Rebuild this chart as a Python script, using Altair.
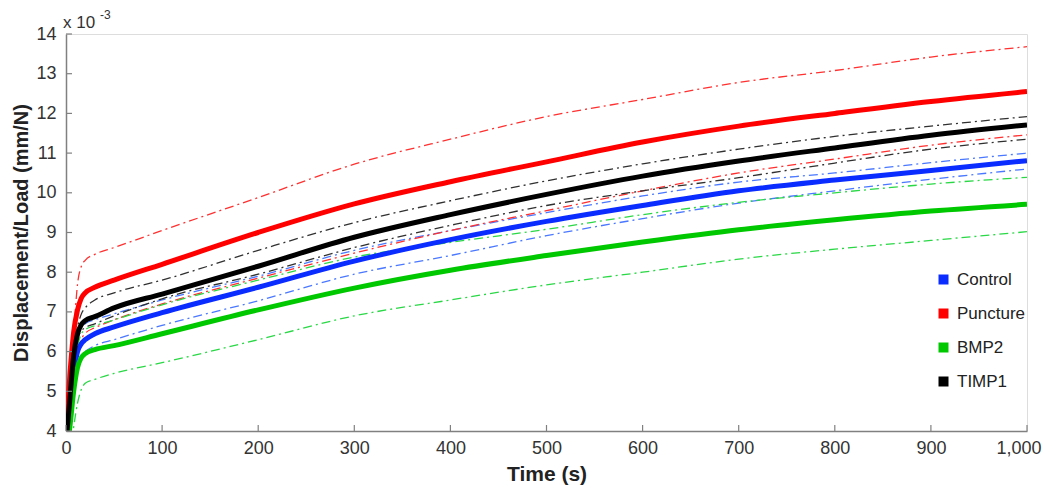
import altair as alt
import pandas as pd

# ---- data (values in units of 10^-3 mm/N) ----
time_s = [0, 4, 8, 12, 16, 20, 30, 50, 100, 200, 300, 400, 500, 600, 700, 800, 900, 1000]

control_mean = [3.6, 4.5, 5.5, 6.0, 6.2, 6.3, 6.45, 6.62, 6.98, 7.62, 8.28, 8.82, 9.28, 9.68, 10.05, 10.32, 10.56, 10.81]
control_upper = [3.4, 4.2, 5.5, 6.3, 6.6, 6.7, 6.8, 6.95, 7.3, 7.9, 8.55, 9.05, 9.5, 9.92, 10.27, 10.5, 10.76, 11.0]
control_lower = [3.2, 3.9, 5.0, 5.6, 5.9, 6.0, 6.15, 6.3, 6.66, 7.28, 7.95, 8.42, 8.92, 9.35, 9.74, 10.05, 10.34, 10.6]

puncture_mean = [3.9, 5.4, 6.5, 7.05, 7.35, 7.48, 7.62, 7.8, 8.2, 9.0, 9.72, 10.28, 10.78, 11.28, 11.68, 12.0, 12.3, 12.55]
puncture_upper = [3.5, 4.6, 6.4, 7.7, 8.15, 8.3, 8.45, 8.62, 9.05, 9.88, 10.72, 11.35, 11.92, 12.35, 12.78, 13.08, 13.42, 13.68]
puncture_lower = [3.2, 3.8, 5.0, 5.9, 6.3, 6.46, 6.6, 6.8, 7.2, 7.85, 8.48, 9.05, 9.55, 10.05, 10.5, 10.85, 11.2, 11.46]

bmp2_mean = [3.4, 4.1, 5.0, 5.6, 5.85, 5.95, 6.05, 6.15, 6.45, 7.05, 7.6, 8.05, 8.42, 8.76, 9.07, 9.32, 9.54, 9.71]
bmp2_upper = [3.3, 4.0, 5.3, 6.1, 6.45, 6.55, 6.65, 6.8, 7.18, 7.8, 8.38, 8.75, 9.08, 9.45, 9.76, 10.0, 10.22, 10.39]
bmp2_lower = [2.8, 3.3, 4.1, 4.7, 5.05, 5.2, 5.3, 5.45, 5.72, 6.3, 6.9, 7.3, 7.68, 8.0, 8.33, 8.58, 8.8, 9.02]

timp1_mean = [3.7, 4.8, 5.9, 6.45, 6.68, 6.78, 6.88, 7.1, 7.45, 8.15, 8.88, 9.45, 9.96, 10.42, 10.8, 11.13, 11.45, 11.71]
timp1_upper = [3.5, 4.5, 5.9, 6.6, 6.95, 7.1, 7.3, 7.48, 7.8, 8.55, 9.25, 9.8, 10.3, 10.73, 11.1, 11.42, 11.68, 11.92]
timp1_lower = [3.4, 4.3, 5.6, 6.3, 6.52, 6.6, 6.7, 6.9, 7.33, 7.95, 8.62, 9.18, 9.68, 10.05, 10.38, 10.75, 11.1, 11.35]

groups = ["Control", "Puncture", "BMP2", "TIMP1"]
x_ticks = [0, 100, 200, 300, 400, 500, 600, 700, 800, 900, 1000]
y_ticks = [4, 5, 6, 7, 8, 9, 10, 11, 12, 13, 14]

solid_colors = ["#0a2cff", "#ff0000", "#00c800", "#000000"]
dash_colors = ["#4a78ff", "#ff3030", "#2ad846", "#303030"]

series = {
    "Control": (control_mean, control_upper, control_lower),
    "Puncture": (puncture_mean, puncture_upper, puncture_lower),
    "BMP2": (bmp2_mean, bmp2_upper, bmp2_lower),
    "TIMP1": (timp1_mean, timp1_upper, timp1_lower),
}

rows = []
for g, (mean, up, lo) in series.items():
    for kind, vals in (("mean", mean), ("upper", up), ("lower", lo)):
        for t, v in zip(time_s, vals):
            rows.append({"t": t, "v": v, "group": g, "kind": kind, "series": f"{g}-{kind}"})
df = pd.DataFrame(rows)

W, H = 961, 397
FONT = "Liberation Sans, Arial, sans-serif"
AX = "#808080"

xscale = alt.Scale(domain=[0, 1000], nice=False, zero=False)
yscale = alt.Scale(domain=[4, 14], nice=False, zero=False)

x_axis = alt.Axis(values=x_ticks, format=",d", title="Time (s)", ticks=False, grid=False,
                  labelFontSize=18, labelFont=FONT, labelColor="#333333", labelPadding=8,
                  labelAlign={"condition": {"test": "datum.value >= 1000", "value": "right"}, "value": "center"},
                  labelOffset={"condition": {"test": "datum.value >= 1000", "value": 14}, "value": 0},
                  titleFontSize=21, titleFont=FONT, titleFontWeight="bold", titleColor="#222222",
                  titlePadding=6, domainColor=AX, domainWidth=1.5, labelFlush=False)
y_axis = alt.Axis(values=y_ticks, format="d", title="Displacement/Load (mm/N)", ticks=False, grid=False,
                  labelFontSize=18, labelFont=FONT, labelColor="#333333", labelPadding=10,
                  titleFontSize=20, titleFont=FONT, titleFontWeight="bold", titleColor="#222222",
                  titlePadding=4, domainColor=AX, domainWidth=1.5, labelFlush=False)

base = alt.Chart(df)

dash = base.transform_filter(alt.datum.kind != "mean").mark_line(
    strokeWidth=1.3, strokeDash=[9, 4, 2, 4], clip=True, interpolate="monotone"
).encode(
    x=alt.X("t:Q", scale=xscale, axis=x_axis),
    y=alt.Y("v:Q", scale=yscale, axis=y_axis),
    color=alt.Color("group:N", scale=alt.Scale(domain=groups, range=dash_colors), legend=None),
    detail="series:N",
)

solid = base.transform_filter(alt.datum.kind == "mean").mark_line(
    strokeWidth=5, clip=True, interpolate="monotone"
).encode(
    x=alt.X("t:Q", scale=xscale, axis=x_axis),
    y=alt.Y("v:Q", scale=yscale, axis=y_axis),
    color=alt.Color(
        "group:N",
        scale=alt.Scale(domain=groups, range=solid_colors),
        legend=alt.Legend(title=None, orient="none", legendX=869, legendY=237,
                          symbolType="square", symbolSize=25, symbolStrokeWidth=5,
                          labelFontSize=17, labelFont=FONT, labelColor="#222222",
                          rowPadding=9, labelOffset=5),
    ),
)

xt = alt.Chart(pd.DataFrame({"tick": x_ticks})).mark_rule(color=AX, strokeWidth=1.2).encode(
    x=alt.X("tick:Q", scale=xscale, axis=x_axis), y=alt.value(H), y2=alt.value(H - 6)
)
yt = alt.Chart(pd.DataFrame({"tick": y_ticks})).mark_rule(color=AX, strokeWidth=1.2).encode(
    y=alt.Y("tick:Q", scale=yscale, axis=y_axis), x=alt.value(0), x2=alt.value(6)
)

exp_main = alt.Chart(pd.DataFrame({"s": ["x 10"]})).mark_text(
    align="left", baseline="middle", fontSize=17, font=FONT, color="#333333"
).encode(text="s:N", x=alt.value(-3), y=alt.value(-11))
exp_sup = alt.Chart(pd.DataFrame({"s": ["-3"]})).mark_text(
    align="left", baseline="middle", fontSize=12, font=FONT, color="#333333"
).encode(text="s:N", x=alt.value(34), y=alt.value(-19))

chart = alt.layer(dash, solid, xt, yt, exp_main, exp_sup).resolve_scale(
    color="independent"
).properties(
    width=W, height=H,
    autosize=alt.AutoSizeParams(type="none"),
    padding={"left": 58, "top": 26, "right": 15, "bottom": 57},
).configure_view(stroke=None).configure(background="white")

chart.save("out.html", embed_options={"renderer": "svg", "actions": False})
